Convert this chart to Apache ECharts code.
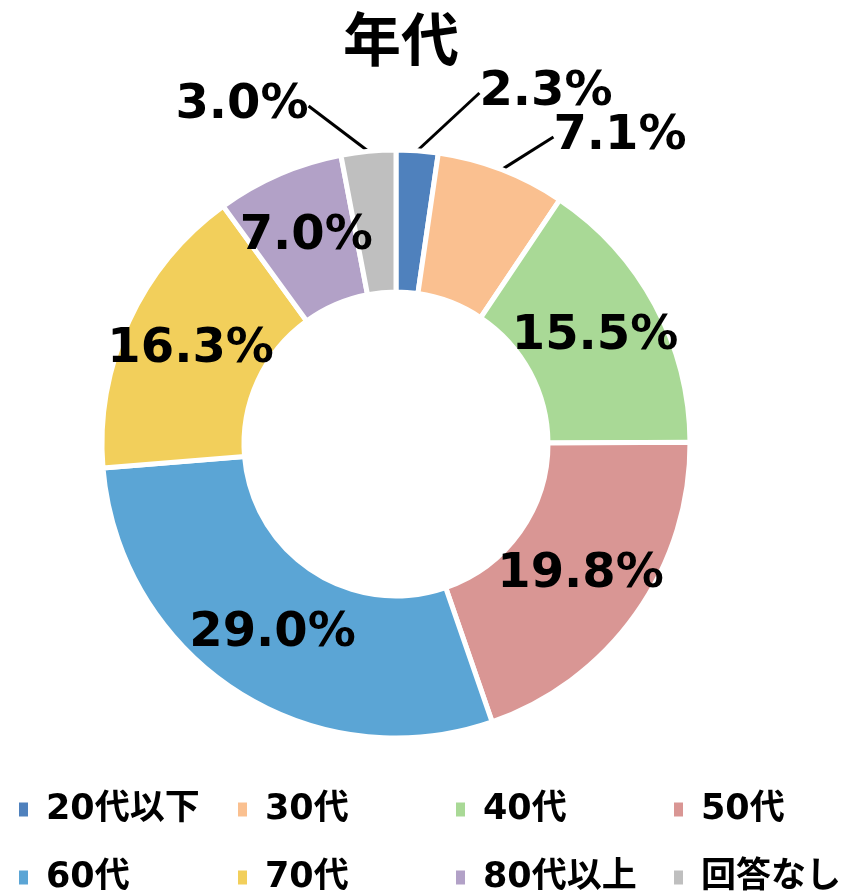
<!DOCTYPE html>
<html>
<head>
<meta charset="utf-8">
<script src="https://cdn.jsdelivr.net/npm/echarts@6/dist/echarts.min.js"></script>
<style>
  html, body { margin: 0; padding: 0; background: #fff; }
  #chart { width: 852px; height: 891px; }
</style>
</head>
<body>
<div id="chart"></div>
<script>
var categoryList = ['20代以下', '30代', '40代', '50代', '60代', '70代', '80代以上', '回答なし'];
var valueList = [2.3, 7.1, 15.5, 19.8, 29.0, 16.3, 7.0, 3.0];
var colorList = ['#4f81bd', '#fac090', '#a9d996', '#d99694', '#5ba5d5', '#f2cf5b', '#b2a1c7', '#bfbfbf'];
// labels drawn outside the ring, with a leader line
var outsideLabels = {0: [546, 93], 1: [620, 137], 7: [242, 106]};

var fontFamily = "'DejaVu Sans', 'Noto Sans CJK JP', sans-serif";

var chart = echarts.init(document.getElementById('chart'));

var pieData = [];
for (var i = 0; i < categoryList.length; i++) {
	var item = {
		name: categoryList[i],
		value: valueList[i],
		itemStyle: { color: colorList[i] }
	};
	if (outsideLabels[i]) {
		item.label = { position: 'outside' };
		item.labelLine = { show: true, length: 20, length2: 0 };
	}
	pieData.push(item);
}

// legend: four columns of two
var legendList = [];
var colLeft = [12, 231, 449, 667];
for (var c = 0; c < 4; c++) {
	legendList.push({
		orient: 'vertical',
		left: colLeft[c],
		top: 786,
		height: 120,
		itemWidth: 11,
		itemHeight: 16,
		itemGap: 31,
		icon: 'rect',
		data: [categoryList[c], categoryList[c + 4]],
		textStyle: {
			fontFamily: fontFamily,
			fontSize: 35,
			fontWeight: 'bold',
			color: '#000',
			lineHeight: 37,
			padding: [0, 0, 0, 12]
		}
	});
}

var option = {
	animation: false,
	title: {
		text: '年代',
		left: 396,
		textAlign: 'center',
		top: 12,
		textStyle: {
			fontFamily: fontFamily,
			fontSize: 58,
			fontWeight: 'bold',
			color: '#000'
		}
	},
	legend: legendList,
	series: [{
		type: 'pie',
		center: [396, 444],
		radius: [152, 294],
		startAngle: 90,
		clockwise: true,
		avoidLabelOverlap: false,
		itemStyle: { borderColor: '#fff', borderWidth: 5 },
		label: {
			show: true,
			position: 'inside',
			formatter: function(p) { return p.value.toFixed(1) + '%'; },
			fontFamily: fontFamily,
			fontSize: 48,
			fontWeight: 'bold',
			color: '#000'
		},
		labelLine: { show: false, lineStyle: { color: '#000', width: 3 } },
		labelLayout: function(params) {
			var pos = outsideLabels[params.dataIndex];
			if (!pos) {
				return {};
			}
			return { x: pos[0], y: pos[1], align: 'center', verticalAlign: 'middle' };
		},
		data: pieData
	}]
};

chart.setOption(option);
</script>
</body>
</html>
